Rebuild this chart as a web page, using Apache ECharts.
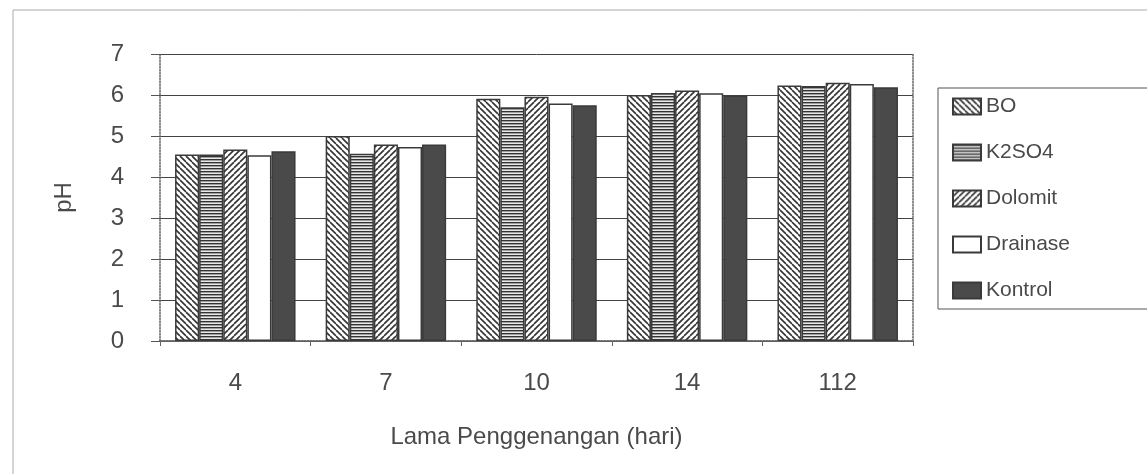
<!DOCTYPE html>
<html>
<head>
<meta charset="utf-8">
<script src="https://cdn.jsdelivr.net/npm/echarts@6/dist/echarts.min.js"></script>
<style>
html,body{margin:0;padding:0;background:#fff;}
#chart{width:1147px;height:474px;}
</style>
</head>
<body>
<div id="chart"></div>
<script>
// ---- data ----
const categories = ['4', '7', '10', '14', '112'];
const seriesNames = ['BO', 'K2SO4', 'Dolomit', 'Drainase', 'Kontrol'];
const valBO       = [4.55, 5.00, 5.91, 6.00, 6.23];
const valK2SO4    = [4.55, 4.57, 5.70, 6.05, 6.22];
const valDolomit  = [4.67, 4.79, 5.96, 6.11, 6.30];
const valDrainase = [4.53, 4.73, 5.79, 6.04, 6.27];
const valKontrol  = [4.63, 4.79, 5.75, 5.99, 6.19];
const yTicks = [0, 1, 2, 3, 4, 5, 6, 7];
const xTitle = 'Lama Penggenangan (hari)';
const yTitle = 'pH';

// ---- patterns ----
function makePattern(kind) {
  const c = document.createElement('canvas');
  const s = 6;
  c.width = s; c.height = s;
  const ctx = c.getContext('2d');
  ctx.fillStyle = '#fff';
  ctx.fillRect(0, 0, s, s);
  ctx.strokeStyle = '#333';
  ctx.lineWidth = 1.6;
  if (kind === 'back') {
    for (let o = -s; o <= s; o += s) {
      ctx.beginPath(); ctx.moveTo(o, 0); ctx.lineTo(o + s, s); ctx.stroke();
    }
  } else if (kind === 'fwd') {
    for (let o = -s; o <= s; o += s) {
      ctx.beginPath(); ctx.moveTo(o, s); ctx.lineTo(o + s, 0); ctx.stroke();
    }
  } else if (kind === 'horiz') {
    c.height = 3;
    const cx = c.getContext('2d');
    cx.fillStyle = '#e8e8e8'; cx.fillRect(0, 0, s, 3);
    cx.fillStyle = '#333'; cx.fillRect(0, 0, s, 1.4);
  }
  return { image: c, repeat: 'repeat' };
}

const fills = [makePattern('back'), makePattern('horiz'), makePattern('fwd'), '#ffffff', '#4a4a4a'];
const allVals = [valBO, valK2SO4, valDolomit, valDrainase, valKontrol];

const chart = echarts.init(document.getElementById('chart'));
const font = 'Liberation Sans, Arial, sans-serif';
const txt = '#4a4a4a';

chart.setOption({
  backgroundColor: '#fff',
  animation: false,
  graphic: [{
    type: 'polyline',
    shape: { points: [[13, 474], [13, 10], [1147, 10]] },
    style: { stroke: '#aaa', lineWidth: 1, fill: null }
  }],
  grid: { left: 160, right: 234, top: 54, bottom: 133, containLabel: false },
  legend: {
    orient: 'vertical',
    left: 938, top: 88,
    padding: [8, 120, 8, 14],
    borderColor: '#555', borderWidth: 1,
    icon: 'rect',
    itemWidth: 28, itemHeight: 16, itemGap: 25,
    textStyle: { fontSize: 21, fontFamily: font, color: txt },
    data: seriesNames
  },
  xAxis: [{
    type: 'category',
    data: categories,
    position: 'bottom',
    boundaryGap: true,
    axisLine: { lineStyle: { color: '#666', type: 'dotted', width: 1.5 } },
    axisTick: { show: true, length: 5, lineStyle: { color: '#666' } },
    axisLabel: { fontSize: 24, fontFamily: font, color: txt, margin: 30 },
    name: xTitle,
    nameLocation: 'middle',
    nameGap: 84,
    nameTextStyle: { fontSize: 24, fontFamily: font, color: txt }
  }, {
    type: 'category',
    data: categories,
    position: 'top',
    axisLine: { show: true, lineStyle: { color: '#666', type: 'dotted', width: 1.5 } },
    axisTick: { show: false },
    axisLabel: { show: false }
  }],
  yAxis: [{
    type: 'value',
    min: yTicks[0], max: yTicks[yTicks.length - 1], interval: 1,
    axisLine: { show: true, lineStyle: { color: '#666', type: 'dotted', width: 1.5 } },
    axisTick: { show: true, length: 9, lineStyle: { color: '#555' } },
    axisLabel: { fontSize: 24, fontFamily: font, color: txt, margin: 36 },
    splitLine: { show: true, lineStyle: { color: '#444', width: 1 } },
    name: yTitle,
    nameLocation: 'middle',
    nameGap: 84,
    nameTextStyle: { fontSize: 24, fontFamily: font, color: txt }
  }, {
    type: 'value',
    position: 'right',
    min: yTicks[0], max: yTicks[yTicks.length - 1], interval: 1,
    axisLine: { show: true, lineStyle: { color: '#666', type: 'dotted', width: 1.5 } },
    axisTick: { show: false },
    axisLabel: { show: false },
    splitLine: { show: false }
  }],
  series: seriesNames.map((n, i) => ({
    name: n,
    type: 'bar',
    data: allVals[i],
    barGap: '0%',
    barCategoryGap: '20%',
    itemStyle: { color: fills[i], borderColor: '#3a3a3a', borderWidth: 1.5 }
  }))
});
</script>
</body>
</html>
